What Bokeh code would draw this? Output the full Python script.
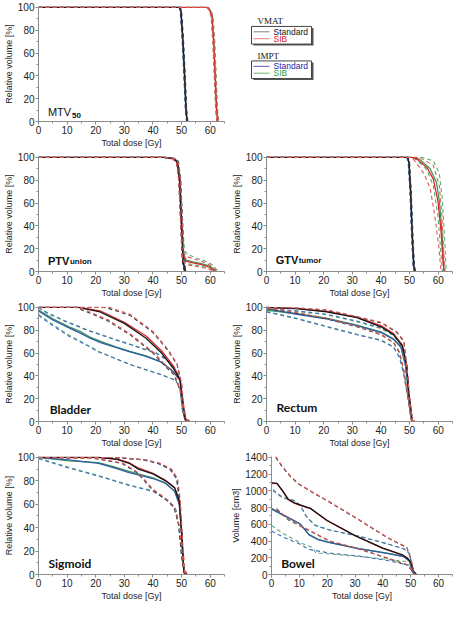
from bokeh.plotting import figure
from bokeh.layouts import column, row
from bokeh.models import Range1d, SingleIntervalTicker, Label, ColumnDataSource
from bokeh.core.properties import value
from bokeh.embed import file_html
from bokeh.resources import INLINE

# ---------------- data (dose [Gy] -> volume) ----------------
# keys: VS = VMAT Standard, VB = VMAT SIB, IS = IMPT Standard, IB = IMPT SIB
# "_hi"/"_lo" = dashed range curves, bare key = mean (solid)

MTV50 = {
    "VS":    ([0, 49.4, 49.8, 50.4, 51.0, 51.6, 52.0], [100, 100, 97, 75, 45, 10, 0]),
    "VS_lo": ([0, 49.2, 49.6, 50.2, 50.8, 51.4, 51.8], [100, 100, 97, 75, 45, 10, 0]),
    "VS_hi": ([0, 49.6, 50.0, 50.6, 51.2, 51.8, 52.2], [100, 100, 97, 75, 45, 10, 0]),
    "IS":    ([0, 49.3, 49.7, 50.3, 50.9, 51.5, 51.9], [100, 100, 97, 75, 45, 10, 0]),
    "IS_lo": ([0, 49.1, 49.5, 50.1, 50.7, 51.3, 51.7], [100, 100, 97, 75, 45, 10, 0]),
    "IS_hi": ([0, 49.5, 49.9, 50.5, 51.1, 51.7, 52.1], [100, 100, 97, 75, 45, 10, 0]),
    "VB":    ([0, 59.0, 59.8, 60.6, 61.2, 61.7, 62.2, 62.6], [100, 100, 98, 92, 70, 40, 10, 0]),
    "VB_lo": ([0, 58.7, 59.5, 60.3, 60.9, 61.4, 61.9, 62.3], [100, 100, 98, 92, 70, 40, 10, 0]),
    "VB_hi": ([0, 59.3, 60.1, 60.9, 61.5, 62.0, 62.5, 62.9], [100, 100, 98, 92, 70, 40, 10, 0]),
    "IB":    ([0, 59.1, 59.9, 60.7, 61.3, 61.8, 62.3, 62.7], [100, 100, 98, 92, 70, 40, 10, 0]),
    "IB_lo": ([0, 58.8, 59.6, 60.4, 61.0, 61.5, 62.0, 62.4], [100, 100, 98, 92, 70, 40, 10, 0]),
    "IB_hi": ([0, 59.4, 60.2, 61.0, 61.6, 62.1, 62.6, 63.0], [100, 100, 98, 92, 70, 40, 10, 0]),
}

PTV_UNION = {
    "VS":    ([0, 44, 47, 48.5, 49.3, 50.0, 50.5, 51.0, 51.5], [100, 100, 99, 96, 80, 40, 10, 2, 0]),
    "VS_hi": ([0, 44.5, 47.5, 48.8, 49.6, 50.3, 50.8, 51.3, 51.8], [100, 100, 99, 96, 80, 40, 10, 2, 0]),
    "VS_lo": ([0, 43.5, 46.5, 48.2, 49.0, 49.7, 50.2, 50.7, 51.2], [100, 100, 99, 96, 80, 40, 10, 2, 0]),
    "IS":    ([0, 44.2, 47.2, 48.6, 49.4, 50.1, 50.6, 51.1, 51.6], [100, 100, 99, 96, 80, 40, 10, 2, 0]),
    "IS_hi": ([0, 44.7, 47.7, 48.9, 49.7, 50.4, 50.9, 51.4, 51.9], [100, 100, 99, 96, 80, 40, 10, 2, 0]),
    "IS_lo": ([0, 43.7, 46.7, 48.3, 49.1, 49.8, 50.3, 50.8, 51.3], [100, 100, 99, 96, 80, 40, 10, 2, 0]),
    "VB":    ([0, 44, 47, 48.5, 49.3, 50.0, 50.6, 51.5, 54, 57, 60, 61.5, 62],
              [100, 100, 99, 96, 80, 40, 14, 9, 7.5, 6, 3.5, 0.5, 0]),
    "VB_hi": ([0, 44.5, 47.5, 48.8, 49.6, 50.3, 50.8, 52, 55, 58, 60.5, 62, 62.5],
              [100, 100, 99, 96, 80, 40, 16, 13, 10.5, 8, 5, 1, 0]),
    "VB_lo": ([0, 43.5, 46.5, 48.2, 49.0, 49.7, 50.4, 51.5, 55, 58, 60, 61],
              [100, 100, 99, 96, 80, 40, 10, 6, 4.5, 3, 1.5, 0]),
    "IB":    ([0, 44.2, 47.2, 48.6, 49.4, 50.1, 50.7, 51.6, 54, 57, 60, 61.7, 62.2],
              [100, 100, 99, 97, 82, 42, 15, 10, 8.5, 7, 4.5, 1, 0]),
    "IB_hi": ([0, 44.7, 47.7, 48.9, 49.7, 50.4, 51.0, 52.2, 55, 58, 60.8, 62.3, 63],
              [100, 100, 99, 97, 82, 42, 18, 15, 12, 9.5, 6, 1.5, 0]),
    "IB_lo": ([0, 43.7, 46.7, 48.3, 49.1, 49.8, 50.5, 51.6, 55, 58, 60.2, 61.3],
              [100, 100, 99, 97, 82, 42, 11, 7, 5.5, 4, 2, 0]),
}

GTV_TUMOR = {
    "VS":    ([0, 49.3, 49.8, 50.4, 51.0, 51.5, 51.9], [100, 100, 96, 70, 30, 5, 0]),
    "VS_hi": ([0, 49.5, 50.0, 50.6, 51.2, 51.7, 52.1], [100, 100, 96, 70, 30, 5, 0]),
    "VS_lo": ([0, 49.1, 49.6, 50.2, 50.8, 51.3, 51.7], [100, 100, 96, 70, 30, 5, 0]),
    "IS":    ([0, 49.2, 49.7, 50.3, 50.9, 51.4, 51.8], [100, 100, 96, 70, 30, 5, 0]),
    "IS_hi": ([0, 49.4, 49.9, 50.5, 51.1, 51.6, 52.0], [100, 100, 96, 70, 30, 5, 0]),
    "IS_lo": ([0, 49.0, 49.5, 50.1, 50.7, 51.2, 51.6], [100, 100, 96, 70, 30, 5, 0]),
    "VB":    ([0, 50.8, 52.9, 56.1, 58.3, 59.9, 61.0, 61.7, 62.0], [100, 100, 98, 91, 81, 62, 35, 9, 0]),
    "VB_hi": ([0, 53.5, 58.3, 60.4, 61.3, 62.0, 62.4], [100, 100, 93, 75, 49, 14, 0]),
    "VB_lo": ([0, 50.5, 51.8, 55.0, 57.2, 58.8, 60.2, 61.0], [100, 100, 97, 86, 73, 49, 22, 0]),
    "IB":    ([0, 51.0, 53.5, 57.2, 59.4, 60.4, 61.3, 62.0, 62.3], [100, 100, 98.5, 90, 78, 62, 35, 3, 0]),
    "IB_hi": ([0, 54.5, 58.3, 60.4, 61.5, 62.4, 62.8], [100, 100, 97, 86, 62, 22, 0]),
    "IB_lo": ([0, 51.0, 52.4, 56.1, 58.3, 59.9, 61.0, 61.5], [100, 100, 98, 89, 75, 49, 14, 0]),
}

BLADDER = {
    "VS":    ([0, 14, 21.5, 30, 37.6, 43, 47.3, 49.5, 50.5, 51.4, 52],
              [100, 100, 96, 86, 73, 60, 46, 36, 14, 1, 0]),
    "VB":    ([0, 14, 21.5, 30, 37.6, 43, 47.3, 49.5, 50.5, 51.4, 52],
              [100, 100, 97, 87, 75, 62, 48, 37, 14, 1, 0]),
    "VS_hi": ([0, 22, 24, 32, 40, 45, 48.4, 50, 50.8, 51.5, 53],
              [100, 100, 99.5, 93, 78, 63, 50, 33, 10, 2, 0]),
    "VB_hi": ([0, 23, 25, 32, 40, 45, 48.4, 50, 50.9, 51.8, 54],
              [100, 100, 100, 94, 79, 64, 51, 34, 11, 2, 0]),
    "VS_lo": ([0, 13, 16, 23.7, 32, 40, 44, 47.3, 49.5, 50.5, 51.5],
              [100, 100, 97, 89, 76, 60, 49, 41, 27, 8, 0]),
    "VB_lo": ([0, 14, 17, 24.5, 32.5, 40.5, 44.5, 47.6, 49.7, 50.7, 52],
              [100, 100, 97, 89, 76, 60, 49, 41, 27, 8, 0]),
    "IS":    ([0, 5, 10.7, 15, 18, 22, 27, 32, 37.6, 43, 47, 49.5, 50.5, 51.4, 52],
              [97, 89, 82, 77, 73, 69, 65, 61, 57, 52, 44, 36, 14, 1, 0]),
    "IB":    ([0, 5, 10.7, 15, 18, 22, 27, 32, 37.6, 43, 47, 49.5, 50.5, 51.4, 52],
              [98, 90, 83, 78.5, 74, 70, 65.5, 61.5, 57.5, 52, 44, 36, 14, 1, 0]),
    "IS_hi": ([0, 3, 10, 17, 24, 30, 36, 41, 46, 49.5, 50.5, 51.5],
              [100, 95, 87, 80, 74, 69, 64, 60, 52, 38, 12, 0]),
    "IB_hi": ([0, 3, 10, 17, 24, 30, 36, 41, 46, 49.5, 50.5, 51.5],
              [100, 95.5, 87.5, 80.5, 74.5, 69.5, 64.5, 60.5, 52.5, 38.5, 12, 0]),
    "IS_lo": ([0, 5, 10.5, 16, 21, 26, 32, 38, 43, 47, 49.3, 50.3, 51.3],
              [93, 84, 75, 68, 61, 56, 50, 45, 41, 37, 32, 10, 0]),
    "IB_lo": ([0, 5, 10.5, 16, 21, 26, 32, 38, 43, 47, 49.3, 50.3, 51.3],
              [94, 85, 76, 68.5, 61.5, 56, 50, 45, 41, 37, 32, 10, 0]),
}

RECTUM = {
    "VS":    ([0, 10.6, 21, 31.6, 40, 44.4, 47.5, 49, 49.8, 50.9, 51.5],
              [100, 99, 96, 91, 83, 76, 66, 49, 22, 1, 0]),
    "VB":    ([0, 10.6, 21, 31.6, 40, 44.4, 47.5, 49, 49.8, 50.9, 51.5],
              [100, 99, 96.5, 91.5, 84, 77, 67, 49, 22, 1, 0]),
    "VB_hi": ([0, 10.6, 21, 31.6, 40, 45.4, 48, 49, 50, 51, 52.5],
              [100, 99.5, 98, 92, 87, 79, 71, 49, 22, 1, 0]),
    "VS_hi": ([0, 10.6, 21, 31.6, 40, 45.4, 48, 49, 50, 51, 52],
              [100, 99.5, 97.5, 91.5, 86.5, 78.5, 70, 49, 22, 1, 0]),
    "VS_lo": ([0, 10.6, 21, 31.6, 40, 44.4, 46.5, 48, 49.5, 50.5, 51.5],
              [99, 95, 90, 83, 76, 69, 60, 44, 20, 2, 0]),
    "VB_lo": ([0, 10.6, 21, 31.6, 40, 44.4, 46.5, 48, 49.5, 50.5, 51.5],
              [99.5, 95.5, 90.5, 83.5, 76.5, 69.5, 61, 45, 21, 2, 0]),
    "IS":    ([0, 10.6, 21, 31.6, 40, 44.4, 47, 48.6, 49.8, 50.8, 51.3],
              [99, 94, 90, 84, 78, 72, 65, 49, 22, 1, 0]),
    "IB":    ([0, 10.6, 21, 31.6, 40, 44.4, 47, 48.6, 49.8, 50.8, 51.3],
              [97.5, 94.5, 90.5, 84.5, 78.5, 72.5, 65.5, 49, 22, 1, 0]),
    "IS_hi": ([0, 10.6, 21, 31.6, 40, 44.4, 47, 48.6, 49.8, 50.8, 51.5],
              [99.5, 97, 94, 88, 82, 76, 68, 49, 22, 1, 0]),
    "IB_hi": ([0, 10.6, 21, 31.6, 40, 44.4, 47, 48.6, 49.8, 50.8, 51.5],
              [99, 96.5, 93.5, 87.5, 81.5, 75.5, 67.5, 49, 22, 1, 0]),
    "IS_lo": ([0, 10.6, 21, 31.6, 40, 44.4, 46.5, 48, 49.7, 50.7, 51.2],
              [96, 90, 83, 76, 71, 65, 56, 41, 17, 1, 0]),
    "IB_lo": ([0, 10.6, 21, 31.6, 40, 44.4, 46.5, 48, 49.7, 50.7, 51.2],
              [96.5, 90.5, 83.5, 76.5, 71.5, 65.5, 56.5, 41.5, 17, 1, 0]),
}

SIGMOID = {
    "VS":    ([0, 21, 27.5, 31.7, 34.9, 40, 44.4, 47.6, 49.2, 50, 50.8, 51.5],
              [100, 100, 98.4, 95, 90, 86, 80, 74, 63, 37, 2, 0]),
    "VB":    ([0, 21, 27.5, 31.7, 34.9, 40, 44.4, 47.6, 49.2, 50, 50.8, 51.5],
              [100, 100, 98.6, 95.5, 91, 86.5, 80.5, 74, 63, 37, 2, 0]),
    "IS":    ([0, 10.6, 21, 26.5, 31.7, 40, 44.4, 47.6, 49.2, 50, 50.8, 51.5],
              [100, 98, 95, 91, 87, 82, 78, 71, 60, 37, 2, 0]),
    "IB":    ([0, 10.6, 21, 26.5, 31.7, 40, 44.4, 47.6, 49.2, 50, 50.8, 51.5],
              [100, 97, 95.5, 92, 88, 82.5, 78, 71, 60, 37, 2, 0]),
    "VS_hi": ([0, 26.5, 37, 42, 46.2, 48.4, 49.4, 50.3, 51, 52],
              [100, 100, 98, 95, 90, 82, 63, 23, 3, 0]),
    "VB_hi": ([0, 27, 37.5, 42.5, 46.5, 48.6, 49.6, 50.5, 51.2, 52.5],
              [100, 100, 98, 95, 90, 82, 63, 23, 3, 0]),
    "IS_hi": ([0, 25.5, 36.5, 41.5, 45.8, 48.2, 49.2, 50.1, 50.9, 51.8],
              [100, 100, 98, 95, 90, 82, 63, 23, 3, 0]),
    "IB_hi": ([0, 26, 36.8, 41.8, 46, 48.3, 49.3, 50.2, 51, 52],
              [100, 100, 98, 95, 90, 82, 63, 23, 3, 0]),
    "IS_lo": ([0, 10.6, 21, 31.7, 40, 45.2, 48, 49, 50, 51, 51.5],
              [99, 91, 84, 76, 71, 63, 55, 42, 15, 1, 0]),
    "IB_lo": ([0, 10.6, 21, 31.7, 40, 45.2, 48, 49, 50, 51, 51.5],
              [99.5, 91.5, 84.5, 76.5, 71.5, 63.5, 55.5, 42.5, 15.5, 1, 0]),
    "VB_lo": ([0, 21, 29.6, 34.9, 40, 44.4, 47.6, 49.2, 50.3, 51, 52],
              [100, 99, 95, 87, 73, 65, 58, 42, 15, 2, 0]),
    "VS_lo": ([0, 20, 29, 34.5, 39.5, 44, 47.3, 49, 50.1, 50.9, 51.8],
              [100, 99, 95, 87, 73, 65, 58, 42, 15, 2, 0]),
}

BOWEL = {
    "VS":    ([0, 2, 4, 6, 8, 10, 14, 20, 30, 40, 47, 49, 50, 51, 52],
              [1095, 1090, 1000, 900, 860, 835, 790, 645, 465, 315, 235, 190, 145, 40, 0]),
    "VB":    ([0, 2, 4, 6, 8, 10, 14, 20, 30, 40, 47, 49, 50, 51, 52],
              [1090, 1085, 995, 895, 855, 830, 788, 643, 463, 313, 233, 188, 142, 38, 0]),
    "VB_hi": ([1.5, 4, 7, 10, 15, 21, 31, 42, 48.6, 50.2, 51.3],
              [1410, 1290, 1170, 1080, 980, 866, 665, 437, 325, 170, 0]),
    "VS_hi": ([1.5, 4, 7, 10, 15, 21, 31, 42, 48.6, 50.2, 51.3],
              [1400, 1280, 1160, 1075, 975, 860, 660, 432, 320, 165, 0]),
    "VB_lo": ([1.8, 6, 10.3, 15.6, 21, 31.6, 42, 48.6, 50.7, 51.5],
              [790, 660, 586, 493, 400, 306, 194, 119, 40, 0]),
    "VS_lo": ([1.8, 6, 10.3, 15.6, 21, 31.6, 42, 48.6, 50.7, 51.5],
              [780, 655, 580, 488, 396, 302, 190, 115, 38, 0]),
    "IS":    ([0, 4, 8.2, 10.3, 13.5, 16.7, 21, 31.6, 42, 47.5, 49.6, 50.7, 51.5],
              [790, 716, 642, 604, 474, 418, 380, 306, 250, 213, 157, 26, 0]),
    "IB":    ([0, 4, 8.2, 10.3, 13.5, 16.7, 21, 31.6, 42, 47.5, 49.6, 50.7, 51.5],
              [780, 712, 640, 602, 476, 420, 382, 309, 252, 215, 158, 27, 0]),
    "IS_hi": ([0.5, 4, 8.2, 10.3, 12.4, 15.6, 21, 31.6, 42, 47.5, 49.6, 50.7, 51.5],
              [1015, 921, 884, 828, 698, 586, 530, 455, 362, 306, 250, 60, 0]),
    "IB_hi": ([0.5, 4, 8.2, 10.3, 12.4, 15.6, 21, 31.6, 42, 47.5, 49.6, 50.7, 51.5],
              [1000, 915, 880, 825, 700, 590, 532, 457, 364, 308, 250, 60, 0]),
    "IS_lo": ([0, 4, 10.3, 13.5, 21, 31.6, 42, 49.6, 50.7, 51.5],
              [520, 450, 362, 300, 255, 220, 165, 110, 30, 0]),
    "IB_lo": ([0, 4, 10.3, 14.6, 16, 21, 31.6, 42, 49.6, 50.7, 51.5],
              [586, 493, 380, 325, 255, 245, 215, 180, 150, 30, 0]),
}

X_LABEL = "Total dose [Gy]"
Y_LABEL_REL = "Relative volume [%]"
Y_LABEL_ABS = "Volume [cm3]"
LEGEND_GROUPS = ["VMAT", "IMPT"]
LEGEND_ENTRIES = ["Standard", "SIB"]

# ---------------- styling ----------------
SOLID = {"VS": "#151515", "VB": "#d42a2a", "IS": "#2f5aa6", "IB": "#3f9a5a"}
DASH = {"VS": "#3a3a3a", "VB": "#e05a5a", "IS": "#4670b6", "IB": "#5aae76"}
DRAW_ORDER = ["IB", "IS", "IB_hi", "IB_lo", "IS_hi", "IS_lo",
              "VB", "VS", "VS_hi", "VS_lo", "VB_hi", "VB_lo"]
AX_COL = "#8c8c8c"
TXT = "#1e1e1e"
FONT = "Liberation Sans"
W = 228


def panel(curves, ylabel, y_end, y_step, label_parts, lx, ly, height, top=6, bottom=27):
    p = figure(width=W, height=height, x_range=Range1d(0, 65), y_range=Range1d(0, y_end),
               output_backend="svg", toolbar_location=None,
               min_border_left=34, min_border_right=4,
               min_border_top=top, min_border_bottom=bottom)
    p.outline_line_color = None
    p.grid.visible = False
    p.xaxis.ticker = SingleIntervalTicker(interval=10, num_minor_ticks=2)
    p.yaxis.ticker = SingleIntervalTicker(interval=y_step, num_minor_ticks=2)
    p.xaxis.axis_label = X_LABEL
    p.yaxis.axis_label = ylabel
    for ax in (p.xaxis[0], p.yaxis[0]):
        ax.axis_line_color = AX_COL
        ax.major_tick_line_color = AX_COL
        ax.minor_tick_line_color = AX_COL
        ax.major_tick_in = 0
        ax.major_tick_out = 3
        ax.minor_tick_in = 0
        ax.minor_tick_out = 2
        ax.major_label_text_font = FONT
        ax.major_label_text_font_size = "10px"
        ax.major_label_text_color = TXT
        ax.axis_label_text_font = FONT
        ax.axis_label_text_font_size = "9px"
        ax.axis_label_text_font_style = "normal"
        ax.axis_label_text_color = TXT
        ax.major_label_standoff = 1
        ax.axis_label_standoff = 1
    for key in DRAW_ORDER:
        if key not in curves:
            continue
        xs, ys = curves[key]
        grp = key.split("_")[0]
        dashed = "_" in key
        src = ColumnDataSource(dict(x=xs, y=ys))
        p.line("x", "y", source=src,
               line_color=DASH[grp] if dashed else SOLID[grp],
               line_width=1.1 if dashed else 1.3,
               line_dash="4 3" if dashed else "solid")
    for text, font, size, style, dx, dy in label_parts:
        p.add_layout(Label(x=lx, y=ly, x_offset=dx, y_offset=dy, text=text,
                           text_font=font, text_font_size=size, text_font_style=style,
                           text_color="#111111", text_baseline="alphabetic"))
    return p


f_mtv = panel(MTV50, Y_LABEL_REL, 100.8, 20,
              [("MTV", FONT, "11px", "normal", 0, 0), ("50", FONT, "8px", "bold", 24, -3)],
              3.3, 8, 150)
f_ptv = panel(PTV_UNION, Y_LABEL_REL, 100.8, 20,
              [("PTV", FONT, "11px", "bold", 0, 0), ("union", FONT, "8px", "bold", 22, -1)],
              3.3, 9.6, 150)
f_gtv = panel(GTV_TUMOR, Y_LABEL_REL, 100.8, 20,
              [("GTV", FONT, "11px", "bold", 0, 0), ("tumor", FONT, "8px", "bold", 23, -1)],
              3.2, 10.4, 150)
f_bla = panel(BLADDER, Y_LABEL_REL, 100.8, 20,
              [("Bladder", "Lato", "12px", "bold", 0, 0)], 3.9, 10.7, 150)
f_rec = panel(RECTUM, Y_LABEL_REL, 100.8, 20,
              [("Rectum", "Lato", "12px", "bold", 0, 0)], 3.5, 12, 150)
f_sig = panel(SIGMOID, Y_LABEL_REL, 100.8, 20,
              [("Sigmoid", "Lato", "12px", "bold", 0, 0)], 3.5, 9.8, 153)
f_bow = panel(BOWEL, Y_LABEL_ABS, 1410, 200,
              [("Bowel", "Lato", "12px", "bold", 0, 0)], 3.5, 131, 153)

# ---------------- legend panel (1 data unit = 1 px, y downward) ----------------
leg = figure(width=W, height=150, x_range=Range1d(0, W), y_range=Range1d(150, 0),
             output_backend="svg", toolbar_location=None,
             x_axis_type=None, y_axis_type=None, title=None,
             min_border_left=0, min_border_right=0, min_border_top=0, min_border_bottom=0)
leg.outline_line_color = None
leg.grid.visible = False

box_tops = [26, 71]
box_left, box_right, box_h = 23, 83, 23
leg.quad(left=[box_left + 2, box_left + 2], right=[box_right + 2, box_right + 2],
         top=[t + 2 for t in box_tops], bottom=[t + 2 + box_h for t in box_tops],
         fill_color="#555555", line_color=None)
leg.quad(left=[box_left] * 2, right=[box_right] * 2,
         top=box_tops, bottom=[t + box_h for t in box_tops],
         fill_color="white", line_color="#444444", line_width=1)
leg.text(x=[box_left + 6] * 2, y=[t - 7 for t in box_tops], text=LEGEND_GROUPS,
         text_font=value("Liberation Serif"), text_font_size=value("9px"),
         text_baseline="middle", text_color="#111111")
line_cols = ["#808080", "#e87a7a", "#5858c8", "#6ab86a"]
text_cols = ["#111111", "#d02020", "#2424a8", "#2f9a3c"]
ys = []
for t in box_tops:
    ys += [t + 7, t + 16]
leg.segment(x0=[box_left + 2] * 4, x1=[box_left + 18] * 4, y0=ys, y1=ys,
            line_color=line_cols, line_width=1)
leg.text(x=[box_left + 22] * 4, y=ys, text=LEGEND_ENTRIES * 2,
         text_font=value(FONT), text_font_size=value("8.5px"),
         text_baseline="middle", text_color=text_cols)

layout = column(row(f_mtv, leg), row(f_ptv, f_gtv), row(f_bla, f_rec), row(f_sig, f_bow))
open("out.html", "w").write(file_html(layout, INLINE))
